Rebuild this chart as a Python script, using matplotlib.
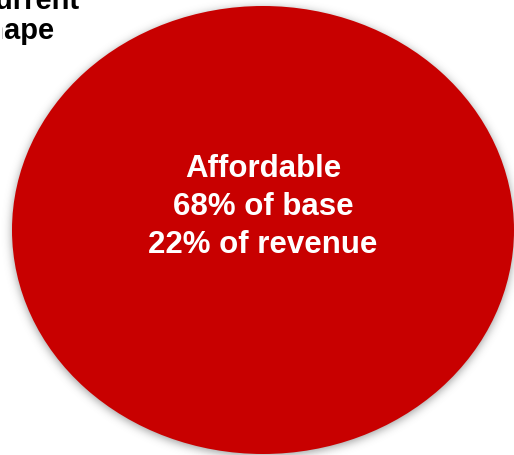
import numpy as np
import matplotlib
matplotlib.use("Agg")
import matplotlib.pyplot as plt
from matplotlib.patches import Ellipse
from matplotlib.transforms import Bbox

# Segment summary
segment = "Affordable"
share_of_base = 68      # % of customer base
share_of_revenue = 22   # % of revenue
title_lines = ["Current", "shape"]

W, H = 514, 456
fig = plt.figure(figsize=(W / 100, H / 100), dpi=100)
ax = fig.add_axes([0, 0, 1, 1])
ax.set_xlim(0, W)
ax.set_ylim(H, 0)
ax.axis("off")

cx, cy, a, b = 263, 231, 251, 224
red = "#C80000"

# Soft drop shadow: blurred ellipse mask
yy, xx = np.mgrid[0:H, 0:W] + 0.5
mask = (((xx - cx) / a) ** 2 + ((yy - cy - 2) / b) ** 2 <= 1.0).astype(float)
sigma = 4.5
k = np.arange(-15, 16)
g = np.exp(-k ** 2 / (2 * sigma ** 2))
g /= g.sum()
blur = np.apply_along_axis(lambda r: np.convolve(r, g, mode="same"), 1, mask)
blur = np.apply_along_axis(lambda c: np.convolve(c, g, mode="same"), 0, blur)
shadow = np.zeros((H, W, 4))
shadow[..., :3] = 0.35
shadow[..., 3] = blur * 0.6
ax.imshow(shadow, extent=(0, W, H, 0), interpolation="bilinear", zorder=1)

ax.add_patch(Ellipse((cx, cy), 2 * a, 2 * b, facecolor=red, edgecolor="none", zorder=2))

label = f"{segment}\n{share_of_base}% of base\n{share_of_revenue}% of revenue"
ax.text(263, 207, label, color="white", fontsize=22.5, fontweight="bold",
        family="Liberation Sans", ha="center", va="center", linespacing=1.33, zorder=3)

# Title, partially running off the top-left corner
t1 = ax.text(80, 9, title_lines[0], color="black", fontsize=21, fontweight="bold",
             family="Liberation Sans", ha="right", va="baseline", zorder=3)
t2 = ax.text(55, 39, title_lines[1], color="black", fontsize=21, fontweight="bold",
             family="Liberation Sans", ha="right", va="baseline", zorder=3)
t2.set_clip_box(Bbox.from_extents(2, 0, W, H))
t2.set_clip_on(True)

fig.savefig("out.png", dpi=100)
